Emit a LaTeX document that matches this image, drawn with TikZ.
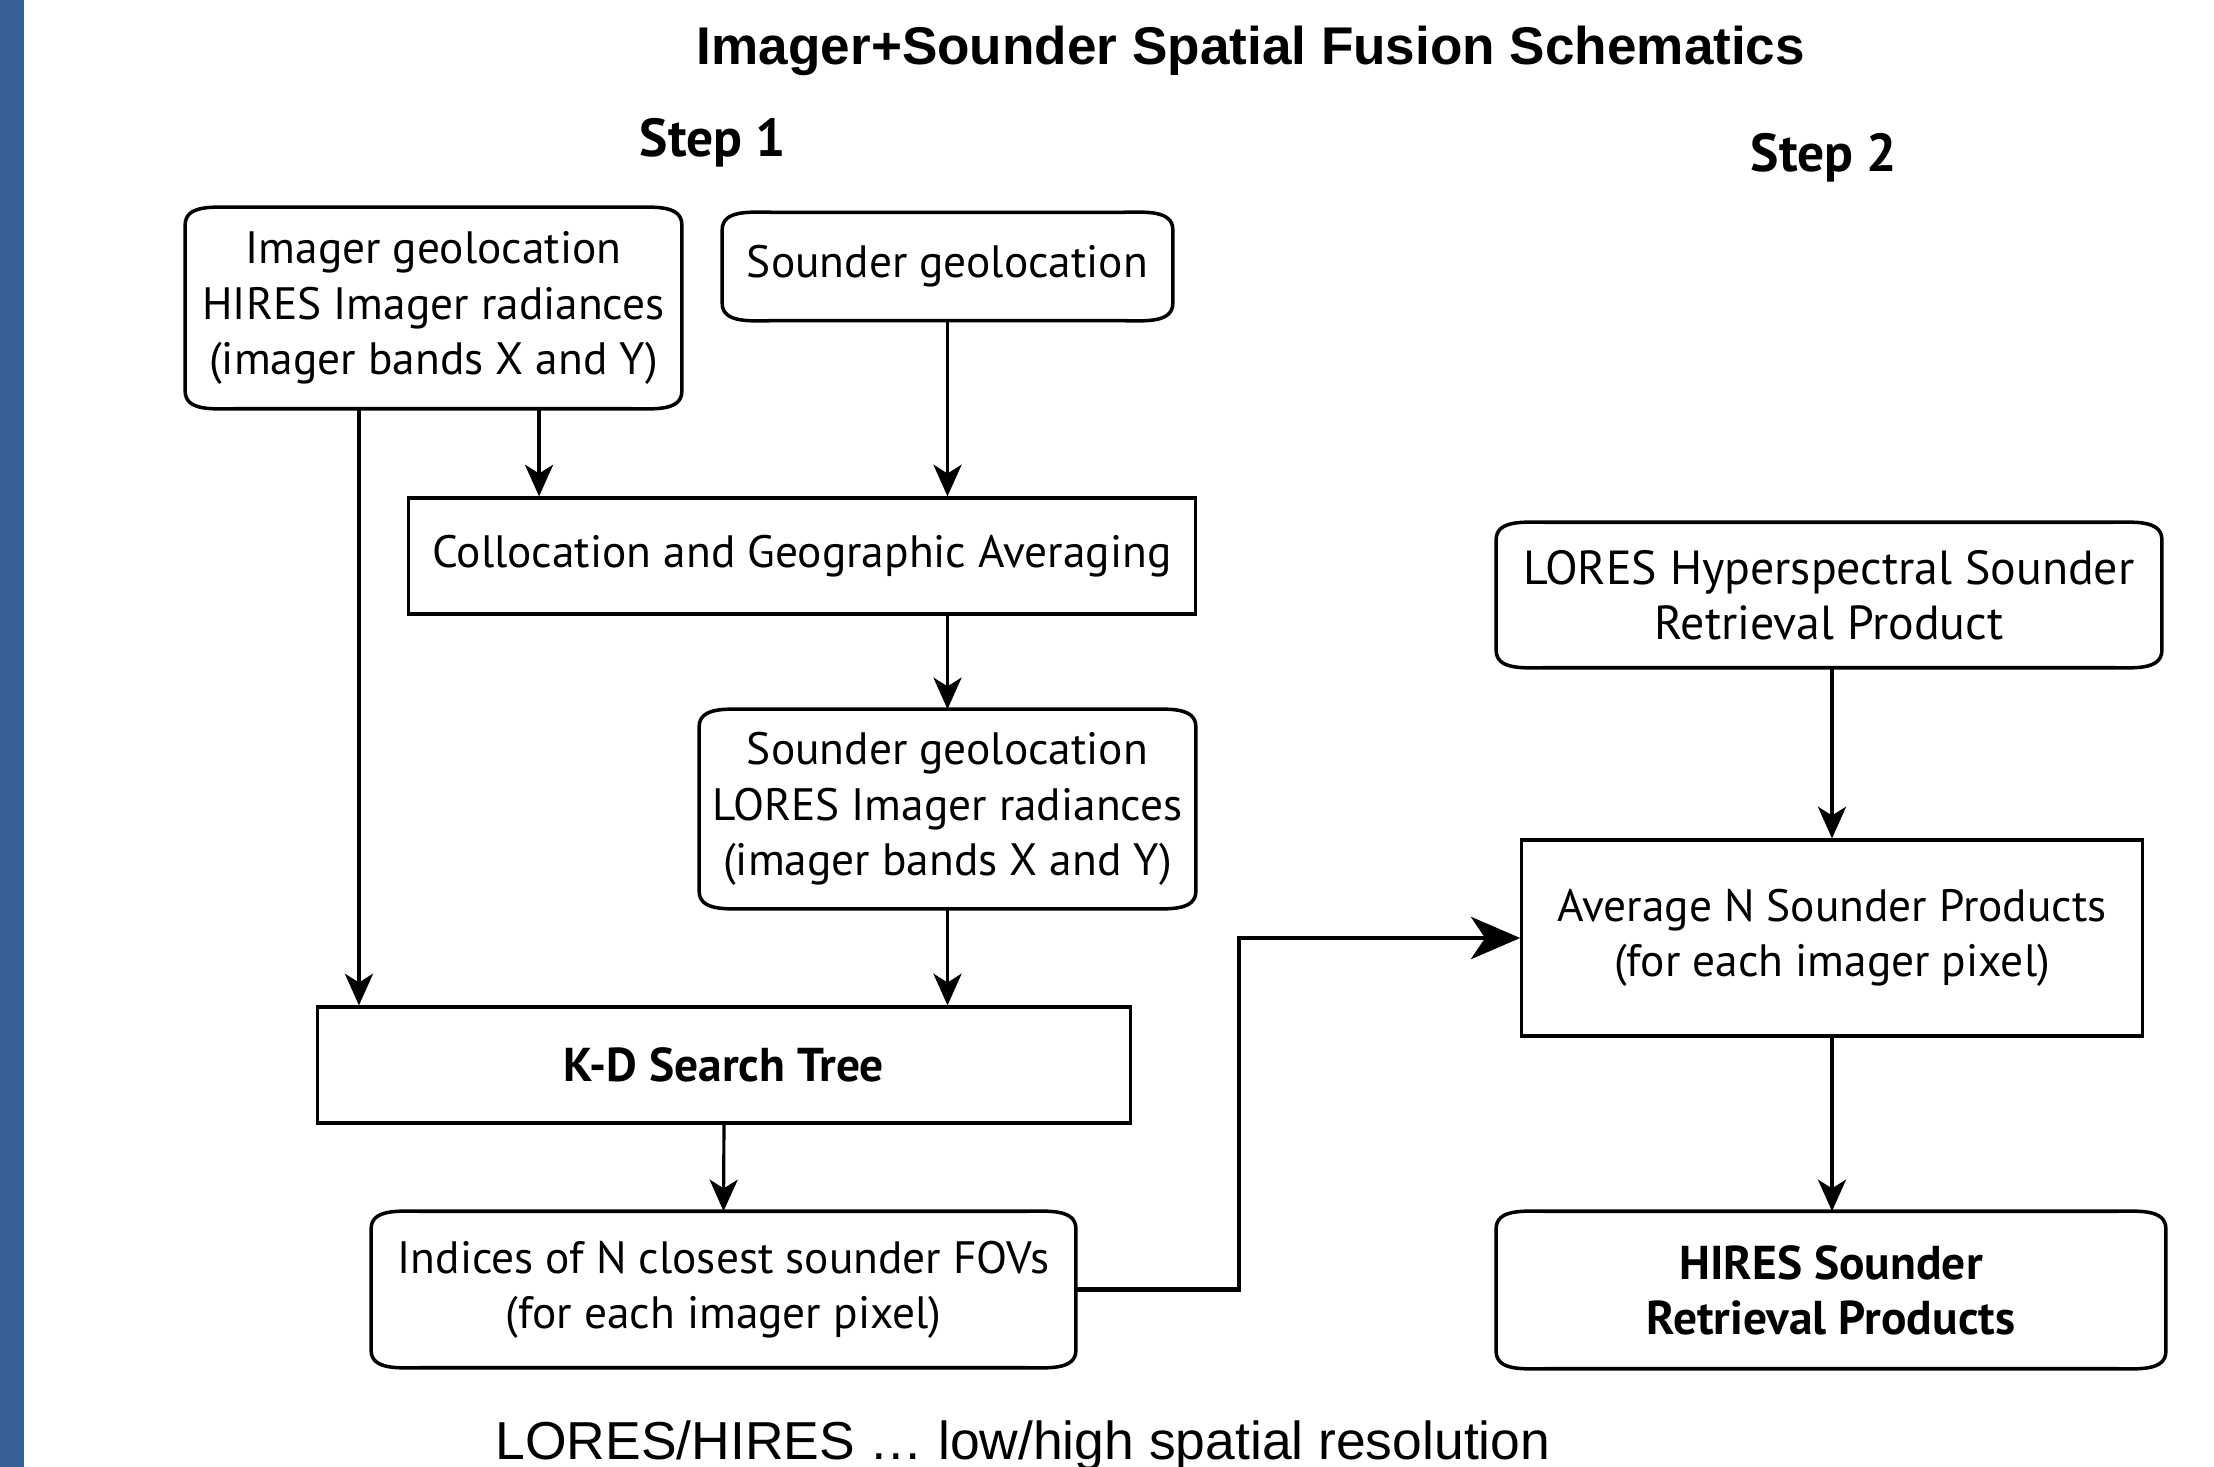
\documentclass[tikz,border=0pt]{standalone}
\usepackage{fontspec}
\setmainfont{PT Sans}
\newfontfamily\arialfont{Liberation Sans}
\usetikzlibrary{arrows.meta}
\definecolor{barblue}{RGB}{54,98,150}
\newcommand{\boxfont}{\fontsize{12.9}{15.7}\selectfont}
\newcommand{\boldboxfont}{\fontsize{13.5}{15.7}\selectfont\bfseries}

\begin{document}
\begin{tikzpicture}[x=0.01cm, y=-0.01cm,
	boxline/.style={line width=1pt},
	plainbox/.style={draw, line width=0.9pt, inner sep=0pt, align=center, font=\boxfont},
	softbox/.style={inner sep=0pt, align=center, font=\boxfont,
		append after command={\pgfextra{\draw[boxline]
			([yshift=-5pt]\tikzlastnode.north west) to[out=90,in=180] ([xshift=14pt]\tikzlastnode.north west)
			-- ([xshift=-14pt]\tikzlastnode.north east) to[out=0,in=90] ([yshift=-5pt]\tikzlastnode.north east)
			-- ([yshift=5pt]\tikzlastnode.south east) to[out=-90,in=0] ([xshift=-14pt]\tikzlastnode.south east)
			-- ([xshift=14pt]\tikzlastnode.south west) to[out=180,in=-90] ([yshift=5pt]\tikzlastnode.south west)
			-- cycle;}}},
	arrow/.style={-{Stealth[length=9pt,width=8pt,inset=2.5pt]}, line width=0.9pt},
	bigarrow/.style={-{Stealth[length=14pt,width=12pt,inset=4pt]}, line width=1.4pt}]
	\useasboundingbox (0,0) rectangle (2214,1467);
	\fill[barblue] (0,0) rectangle (24,1467);

	% headings
	\node[anchor=base, font=\arialfont\bfseries\fontsize{15.1}{18}\selectfont] (title) at (1251,65) {Imager+Sounder Spatial Fusion Schematics};
	\node[anchor=base, font=\bfseries\fontsize{15.2}{18}\selectfont] (step1) at (713,157) {Step 1};
	\node[anchor=base, font=\bfseries\fontsize{15.2}{18}\selectfont] (step2) at (1824,172) {Step 2};

	% step 1
	\node[softbox, minimum width=4.95cm, minimum height=2cm] (imgeo) at (433.5,308) {Imager geolocation\\HIRES Imager radiances\\(imager bands X and Y)};
	\node[softbox, minimum width=4.49cm, minimum height=1.07cm] (sndgeo) at (947.5,266.5) {Sounder geolocation};
	\node[plainbox, minimum width=7.86cm, minimum height=1.16cm] (coll) at (802,556) {Collocation and Geographic Averaging};
	\node[softbox, minimum width=4.95cm, minimum height=1.98cm] (lowimg) at (947.5,809) {Sounder geolocation\\LORES Imager radiances\\(imager bands X and Y)};
	\node[plainbox, minimum width=8.12cm, minimum height=1.16cm, font=\boldboxfont] (kdtree) at (724,1065) {K-D Search Tree};
	\node[softbox, minimum width=7.03cm, minimum height=1.55cm] (indices) at (723.5,1289.5) {Indices of N closest sounder FOVs\\(for each imager pixel)};

	% step 2
	\node[softbox, minimum width=6.64cm, minimum height=1.44cm, font=\fontsize{13.6}{15.7}\selectfont] (lores) at (1829,595) {LORES Hyperspectral Sounder\\Retrieval Product};
	\node[plainbox, minimum width=6.2cm, minimum height=1.96cm] (avg) at (1832,938) {Average N Sounder Products\\(for each imager pixel)};
	\node[softbox, minimum width=6.68cm, minimum height=1.56cm, font=\boldboxfont] (hires) at (1831,1290) {HIRES Sounder\\Retrieval Products};

	\node[anchor=base, font=\arialfont\fontsize{15.2}{18}\selectfont] (note) at (1023,1459) {LORES/HIRES … low/high spatial resolution};

	% connectors
	\draw[arrow] ([xshift=-0.745cm]imgeo.south) -- ([xshift=-0.745cm]imgeo.south |- kdtree.north);
	\draw[arrow] ([xshift=1.055cm]imgeo.south) -- ([xshift=1.055cm]imgeo.south |- coll.north);
	\draw[arrow] (sndgeo.south) -- (sndgeo.south |- coll.north);
	\draw[arrow] (lowimg.north |- coll.south) -- (lowimg.north);
	\draw[arrow] (lowimg.south) -- (lowimg.south |- kdtree.north);
	\draw[arrow] (kdtree.south) -- (indices.north);
	\draw[bigarrow] (indices.east) -- ++(1.63cm,0) |- (avg.west);
	\draw[arrow] (avg.north |- lores.south) -- (avg.north);
	\draw[arrow] (avg.south) -- (avg.south |- hires.north);
\end{tikzpicture}
\end{document}
